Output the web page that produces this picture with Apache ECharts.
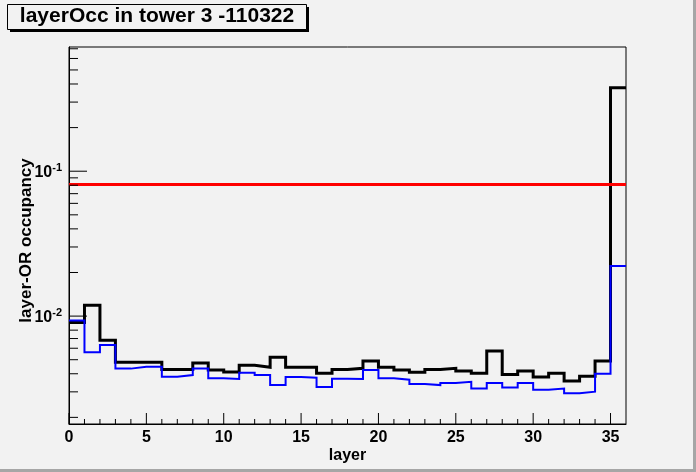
<!DOCTYPE html>
<html>
<head>
<meta charset="utf-8">
<script src="https://cdn.jsdelivr.net/npm/echarts@6/dist/echarts.min.js"></script>
<style>
html,body{margin:0;padding:0;background:#f2f2f2;}
#chart{width:696px;height:472px;}
</style>
</head>
<body>
<div id="chart"></div>
<script>
// ---- data ----
const titleText = 'layerOcc in tower 3 -110322';
const xTitle = 'layer';
const yTitle = 'layer-OR occupancy';
const blackValues = [0.00905, 0.0119, 0.0068, 0.0048, 0.0048, 0.0048, 0.00428, 0.00428, 0.00475, 0.00425,
  0.00411, 0.00457, 0.00443, 0.00519, 0.00443, 0.00443, 0.00403, 0.00428, 0.00436, 0.00489,
  0.00443, 0.00425, 0.00409, 0.00428, 0.00436, 0.00418, 0.00403, 0.00574, 0.00396, 0.00418,
  0.0038, 0.00403, 0.00356, 0.00384, 0.00489, 0.377];
const blueValues = [0.00934, 0.00562, 0.00631, 0.00434, 0.00447, 0.00447, 0.00382, 0.00392, 0.00434, 0.00373,
  0.00368, 0.00406, 0.00392, 0.00334, 0.0038, 0.00376, 0.00324, 0.00369, 0.00368, 0.00425,
  0.00373, 0.00364, 0.0034, 0.00334, 0.00345, 0.00352, 0.00316, 0.00345, 0.00321, 0.00345,
  0.0031, 0.00316, 0.00294, 0.00301, 0.0040, 0.0222];
const thresholdValue = 0.081;
const xMajorTicks = [0, 5, 10, 15, 20, 25, 30, 35];
const xMinorTicks = [1,2,3,4,6,7,8,9,11,12,13,14,16,17,18,19,21,22,23,24,26,27,28,29,31,32,33,34];
const yMajorTicks = [0.01, 0.1];
const yMinorTicks = [0.002,0.003,0.004,0.005,0.006,0.007,0.008,0.009,
  0.02,0.03,0.04,0.05,0.06,0.07,0.08,0.09,0.2,0.3,0.4,0.5,0.6,0.7];
const xMin = 0, xMax = 36, yMin = 0.0018, yMax = 0.72;

function stepData(vals) {
  const d = vals.map((v, i) => [i, v]);
  d.push([vals.length, vals[vals.length - 1]]);
  return d;
}

const chart = echarts.init(document.getElementById('chart'), null, {renderer: 'canvas'});

function xTickItem(params, api) {
  const cs = params.coordSys;
  const p = api.coord([api.value(0), yMax]);
  const len = api.value(1);
  const bottom = cs.y + cs.height;
  return {type: 'line', shape: {x1: p[0], y1: bottom, x2: p[0], y2: bottom - len},
    style: {stroke: '#000', lineWidth: 1}};
}
function yTickItem(params, api) {
  const cs = params.coordSys;
  const p = api.coord([xMin, api.value(0)]);
  const len = api.value(1);
  return {type: 'line', shape: {x1: cs.x, y1: p[1], x2: cs.x + len, y2: p[1]},
    style: {stroke: '#000', lineWidth: 1}};
}

const FF = '"Liberation Sans", Arial, sans-serif';

const option = {
  animation: false,
  backgroundColor: '#f2f2f2',
  textStyle: {fontFamily: FF},
  grid: {left: 69, right: 70, top: 47, bottom: 48, show: true, borderColor: '#000', borderWidth: 1, backgroundColor: 'transparent'},
  graphic: [
    {type: 'rect', shape: {x: 10, y: 7, width: 299, height: 25}, style: {fill: '#000'}, z: 100},
    {type: 'rect', shape: {x: 7.5, y: 4.5, width: 299, height: 25}, style: {fill: '#f2f2f2', stroke: '#000', lineWidth: 1}, z: 101},
    {type: 'text', x: 157, y: 16, z: 102, style: {text: titleText, fill: '#000', font: 'bold 21px ' + FF, textAlign: 'center', textVerticalAlign: 'middle'}},
    {type: 'rect', shape: {x: 0, y: 469, width: 696, height: 3}, style: {fill: '#a6a6a6'}, z: 100},
    {type: 'rect', shape: {x: 693, y: 0, width: 3, height: 472}, style: {fill: '#a6a6a6'}, z: 100}
  ],
  xAxis: {
    type: 'value', min: xMin, max: xMax, interval: 5,
    name: xTitle, nameLocation: 'middle', nameGap: 24, nameMoveOverlap: false,
    nameTextStyle: {fontSize: 16, fontWeight: 'bold', color: '#000', fontFamily: FF},
    axisLine: {show: true, lineStyle: {color: '#000', width: 1}},
    axisTick: {show: false},
    splitLine: {show: false},
    axisLabel: {fontSize: 16, fontWeight: 'bold', color: '#000', margin: 6, showMaxLabel: false, fontFamily: FF,
      formatter: v => (xMajorTicks.indexOf(v) >= 0 ? String(v) : '')}
  },
  yAxis: {
    type: 'log', logBase: 10, min: yMin, max: yMax,
    name: yTitle, nameLocation: 'middle', nameGap: 34, nameMoveOverlap: false,
    nameTextStyle: {fontSize: 17, fontWeight: 'bold', color: '#000', fontFamily: FF, padding: [0, 10, 0, 0]},
    axisLine: {show: true, lineStyle: {color: '#000', width: 1}},
    axisTick: {show: false},
    splitLine: {show: false},
    axisLabel: {
      margin: 7, color: '#000',
      formatter: function (v) {
        const e = Math.log10(v);
        const r = Math.round(e);
        if (Math.abs(e - r) < 1e-6 && yMajorTicks.some(t => Math.abs(Math.log10(t) - r) < 1e-6)) {
          return '{b|10}{s|' + r + '}';
        }
        return '';
      },
      rich: {
        b: {fontSize: 16, fontWeight: 'bold', color: '#000', lineHeight: 18, verticalAlign: 'bottom', fontFamily: FF},
        s: {fontSize: 11, fontWeight: 'bold', color: '#000', lineHeight: 18, verticalAlign: 'top', fontFamily: FF}
      }
    }
  },
  series: [
    {type: 'custom', renderItem: xTickItem, silent: true,
      data: xMajorTicks.map(v => [v, 11]).concat(xMinorTicks.map(v => [v, 5])), z: 5},
    {type: 'custom', renderItem: yTickItem, silent: true,
      data: yMajorTicks.map(v => [v, 18]).concat(yMinorTicks.map(v => [v, 9])), z: 5},
    {type: 'line', name: 'black', data: stepData(blackValues), step: 'end', showSymbol: false, symbol: 'none',
      lineStyle: {color: '#000', width: 3, join: 'miter'}, z: 2},
    {type: 'line', name: 'blue', data: stepData(blueValues), step: 'end', showSymbol: false, symbol: 'none',
      lineStyle: {color: '#0000ff', width: 2, join: 'miter'}, z: 3},
    {type: 'line', name: 'threshold', data: [[xMin, thresholdValue], [xMax, thresholdValue]], showSymbol: false, symbol: 'none',
      lineStyle: {color: '#ff0000', width: 3}, z: 4}
  ]
};
chart.setOption(option);
</script>
</body>
</html>
